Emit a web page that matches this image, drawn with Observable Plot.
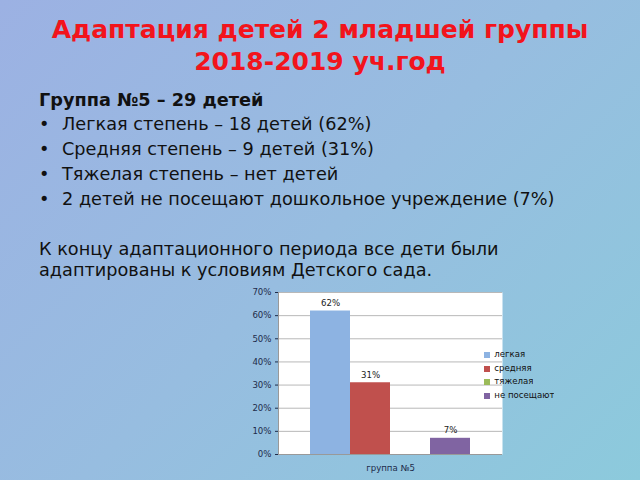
<!DOCTYPE html>
<html><head><meta charset="utf-8">
<script src="https://cdn.jsdelivr.net/npm/d3@7"></script>
<script src="https://cdn.jsdelivr.net/npm/@observablehq/plot@0.6"></script>
<style>
html,body{margin:0;padding:0;}
body{width:640px;height:480px;overflow:hidden;position:relative;
 background:linear-gradient(135deg,#9cb1e3 0%,#97bde0 50%,#8ccadc 100%);
 font-family:"DejaVu Sans",sans-serif;color:#111;}
.title{position:absolute;left:0;width:640px;text-align:center;color:#f2141c;font-weight:bold;font-size:25px;line-height:30px;}
.line{position:absolute;left:39px;font-size:17.7px;line-height:20px;white-space:nowrap;}
.bul{position:absolute;left:39px;font-size:17.7px;line-height:20px;white-space:nowrap;}
.bul span.b{display:inline-block;width:23px;}
#chart{position:absolute;left:240px;top:280px;}
#legend{position:absolute;left:484px;top:348px;}
#legend div div{height:13.7px;line-height:13.7px;padding:0 !important;}
</style></head><body>
<div class="title" style="top:15px">Адаптация детей 2 младшей группы</div>
<div class="title" style="top:47px">2018-2019 уч.год</div>
<div class="line" style="top:90px;font-weight:bold">Группа №5 – 29 детей</div>
<div class="bul" style="top:114px"><span class="b">•</span>Легкая степень – 18 детей (62%)</div>
<div class="bul" style="top:139px"><span class="b">•</span>Средняя степень – 9 детей (31%)</div>
<div class="bul" style="top:164px"><span class="b">•</span>Тяжелая степень – нет детей</div>
<div class="bul" style="top:189px"><span class="b">•</span>2 детей не посещают дошкольное учреждение (7%)</div>
<div class="line" style="top:239px">К концу адаптационного периода все дети были</div>
<div class="line" style="top:260px">адаптированы к условиям Детского сада.</div>
<div id="chart"></div>
<div id="legend"></div>
<script>
const group = ["группа №5"];
const categories = ["легкая", "средняя", "тяжелая", "не посещают"];
const values = [0.62, 0.31, 0, 0.07];
const colors = ["#8db3e2", "#c0504d", "#9bbb59", "#8064a2"];
const yTicks = [0, 0.1, 0.2, 0.3, 0.4, 0.5, 0.6, 0.7];

const data = categories.map((c, i) => ({group: group[0], category: c, value: values[i]}));
const pct = d3.format(".0%");

const chart = Plot.plot({
  width: 270, height: 200,
  marginLeft: 38, marginTop: 12, marginBottom: 26, marginRight: 8,
  style: {fontFamily: "DejaVu Sans, sans-serif", fontSize: "8.6px", color: "#1d2b4a", background: "transparent", overflow: "visible"},
  fx: {domain: group, axis: "bottom", label: null, tickSize: 0, tickPadding: 10, padding: 0},
  x: {domain: categories, paddingInner: 0, paddingOuter: 0.75, axis: null},
  y: {domain: [0, 0.7], ticks: yTicks, tickFormat: pct, label: null, tickSize: 3, tickPadding: 4},
  color: {domain: categories, range: colors},
  marks: [
    Plot.frame({fill: "white", stroke: null}),
    Plot.gridY(yTicks, {stroke: "#b8b8b8", strokeOpacity: 1, strokeWidth: 1}),
    Plot.barY(data, {fx: "group", x: "category", y: "value", fill: "category"}),
    Plot.text(data.filter(d => d.value > 0), {fx: "group", x: "category", y: "value", text: d => pct(d.value), dy: -8, fill: "#222", fontSize: 8.6}),
    Plot.ruleY([0], {stroke: "#999"}),
    Plot.frame({anchor: "left", stroke: "#999"})
  ]
});
document.getElementById("chart").appendChild(chart);

const legend = Plot.legend({
  color: {domain: categories, range: colors},
  legend: "swatches", columns: 1, swatchSize: 6,
  style: {fontFamily: "DejaVu Sans, sans-serif", fontSize: "8.6px", color: "#111", background: "transparent"}
});
document.getElementById("legend").appendChild(legend);
</script>
</body></html>
